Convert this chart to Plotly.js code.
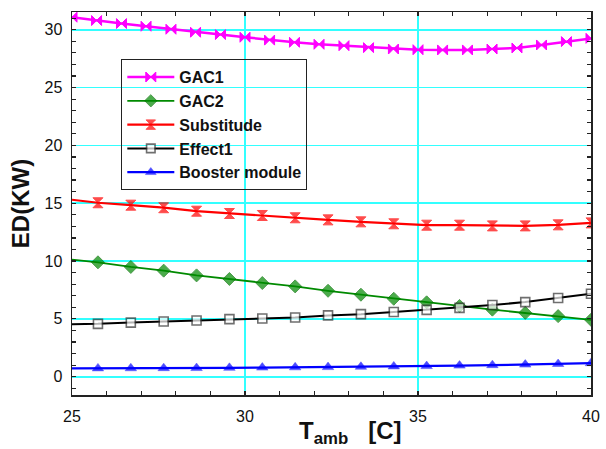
<!DOCTYPE html>
<html>
<head>
<meta charset="utf-8">
<script src="https://cdn.plot.ly/plotly-3.0.1.min.js"></script>
<style>
  html, body { margin: 0; padding: 0; background: #fff; }
  #chart { width: 606px; height: 449px; }
</style>
</head>
<body>
<div id="chart"></div>
<script>
// Ambient temperature [C] for the GAC1 curve (22 points)
var tambGac1 = [25, 25.71, 26.43, 27.14, 27.86, 28.57, 29.29, 30, 30.71, 31.43, 32.14,
                32.86, 33.57, 34.29, 35, 35.71, 36.43, 37.14, 37.86, 38.57, 39.29, 40];
var edGac1 = [31.08, 30.79, 30.53, 30.30, 30.04, 29.78, 29.58, 29.35, 29.10, 28.91, 28.74,
              28.62, 28.45, 28.33, 28.27, 28.25, 28.25, 28.33, 28.42, 28.68, 28.97, 29.25];

// Ambient temperature [C] shared by the other four curves
var tamb = [25, 25.75, 26.7, 27.65, 28.6, 29.55, 30.5, 31.45, 32.4, 33.35, 34.3,
            35.25, 36.2, 37.15, 38.1, 39.05, 40];
var edGac2 = [10.12, 9.89, 9.49, 9.17, 8.76, 8.45, 8.10, 7.81, 7.43, 7.09, 6.74,
              6.43, 6.12, 5.80, 5.52, 5.24, 4.92];
var edSubstitude = [15.30, 15.04, 14.83, 14.61, 14.31, 14.11, 13.94, 13.74, 13.56, 13.39, 13.22,
                    13.10, 13.10, 13.04, 13.04, 13.13, 13.30];
var edEffect1 = [4.54, 4.57, 4.68, 4.77, 4.86, 4.98, 5.03, 5.12, 5.30, 5.41, 5.59,
                 5.78, 5.95, 6.20, 6.45, 6.80, 7.17];
var edBooster = [0.72, 0.72, 0.73, 0.74, 0.75, 0.77, 0.79, 0.81, 0.83, 0.86, 0.89,
                 0.92, 0.96, 1.00, 1.05, 1.10, 1.17];

var seriesNames = ['GAC1', 'GAC2', 'Substitude', 'Effect1', 'Booster module'];
var xTickVals = [25, 30, 35, 40];
var yTickVals = [0, 5, 10, 15, 20, 25, 30];

// the first point of the shared-grid curves carries no symbol
function symbolSizes(n, size) {
  var s = [];
  for (var i = 0; i < n; i++) s.push(i === 0 ? 0 : size);
  return s;
}

var FONT = 'Arial, "Liberation Sans", sans-serif';

var traces = [
  {
    x: tambGac1, y: edGac1, name: seriesNames[0], type: 'scatter', mode: 'lines+markers',
    line: {color: '#ff00ff', width: 2.5},
    marker: {symbol: 'bowtie', size: 10, color: '#ff00ff', line: {color: '#ff00ff', width: 1}}
  },
  {
    x: tamb, y: edGac2, name: seriesNames[1], type: 'scatter', mode: 'lines+markers',
    line: {color: '#008a00', width: 1.8},
    marker: {symbol: 'diamond', size: symbolSizes(tamb.length, 10), color: '#008a00', line: {color: '#006e00', width: 1}}
  },
  {
    x: tamb, y: edSubstitude, name: seriesNames[2], type: 'scatter', mode: 'lines+markers',
    line: {color: '#ff0000', width: 2.2},
    marker: {symbol: 'hourglass', size: symbolSizes(tamb.length, 10), color: '#ff0000', line: {color: '#ff0000', width: 1}}
  },
  {
    x: tamb, y: edEffect1, name: seriesNames[3], type: 'scatter', mode: 'lines+markers',
    line: {color: '#000000', width: 2},
    marker: {symbol: 'square', size: symbolSizes(tamb.length, 9), color: '#ffffff', line: {color: '#333333', width: 1.6}}
  },
  {
    x: tamb, y: edBooster, name: seriesNames[4], type: 'scatter', mode: 'lines+markers',
    line: {color: '#0000ff', width: 2.2},
    marker: {symbol: 'triangle-up', size: symbolSizes(tamb.length, 10), color: '#0000ff', line: {color: '#0000ff', width: 0.5}}
  }
];

var axisCommon = {
  showgrid: true, gridcolor: '#33ffff', gridwidth: 1.6,
  showline: true, linecolor: '#222222', linewidth: 1.5, mirror: 'allticks',
  ticks: 'inside', ticklen: 4, tickwidth: 1.2, tickcolor: '#222222',
  tickfont: {family: FONT, size: 16, color: '#111111'},
  zeroline: false, fixedrange: true,
  minor: {dtick: 1, ticks: 'inside', ticklen: 4, tickwidth: 1.2, tickcolor: '#222222', showgrid: false}
};

var layout = {
  width: 606, height: 449,
  margin: {l: 72, r: 15, t: 12, b: 54},
  paper_bgcolor: '#ffffff', plot_bgcolor: '#ffffff',
  font: {family: FONT, color: '#111111'},
  showlegend: true,
  legend: {
    x: 0.095, y: 0.877, xanchor: 'left', yanchor: 'top',
    bgcolor: 'rgba(255,255,255,0)', bordercolor: '#222222', borderwidth: 1,
    font: {family: FONT, size: 16, color: '#111111', weight: 'bold'},
    itemwidth: 47, traceorder: 'normal'
  },
  xaxis: Object.assign({}, axisCommon, {
    range: [25, 40], tickmode: 'array', tickvals: xTickVals,
    ticklabelstandoff: 6
  }),
  yaxis: Object.assign({}, axisCommon, {
    range: [-1.58, 31.53], tickmode: 'array', tickvals: yTickVals,
    ticklabelstandoff: 5,
    title: {text: 'ED(KW)', font: {family: FONT, size: 24, color: '#111111', weight: 'bold'}, standoff: 8}
  }),
  annotations: [{
    text: 'T<sub>amb</sub>&nbsp;&nbsp;&nbsp;[C]',
    xref: 'paper', yref: 'paper', x: 0.537, y: -0.097,
    xanchor: 'center', yanchor: 'middle', showarrow: false,
    font: {family: FONT, size: 24, color: '#111111', weight: 'bold'}
  }]
};

Plotly.newPlot('chart', traces, layout, {displayModeBar: false, staticPlot: true});
</script>
</body>
</html>
